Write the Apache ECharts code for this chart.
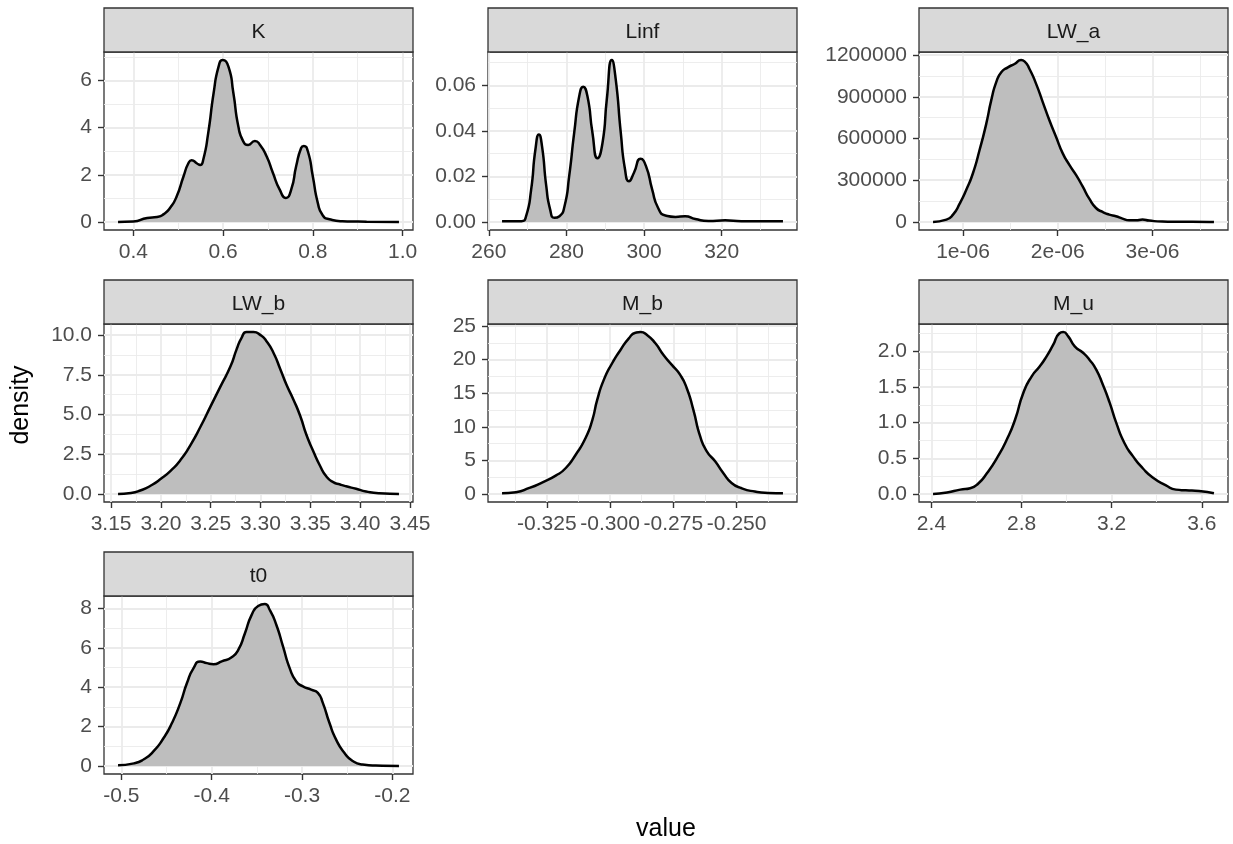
<!DOCTYPE html>
<html><head><meta charset="utf-8">
<script src="https://cdn.jsdelivr.net/npm/echarts@6/dist/echarts.min.js"></script>
<style>html,body{margin:0;padding:0;background:#fff}#c{width:1233px;height:844px}</style>
</head><body><div id="c"></div>
<script>
// ---- data ----
const panelNames = ['K', 'Linf', 'LW_a', 'LW_b', 'M_b', 'M_u', 't0'];

const K_x = [0.366,0.400,0.431,0.453,0.468,0.483,0.497,0.512,0.523,0.530,0.542,0.549,0.556,0.567,0.579,0.590,0.599,0.612,0.623,0.634,0.645,0.656,0.671,0.682,0.697,0.711,0.726,0.740,0.752,0.763,0.774,0.780,0.789,0.800,0.811,0.822,0.837,0.866,0.920,0.992];
const K_y = [0,0.02,0.17,0.21,0.33,0.62,1.1,1.94,2.5,2.62,2.48,2.42,2.65,3.78,5.47,6.59,6.87,6.59,5.47,4.06,3.42,3.27,3.44,3.28,2.79,2.09,1.38,1.02,1.38,2.37,3.14,3.22,3.0,1.94,0.82,0.28,0.11,0.03,0.01,0];

const Linf_x = [263.4,268.4,269.6,270.9,272.0,272.9,273.7,274.8,275.8,276.9,278.2,279.5,280.7,282.0,283.3,284.3,285.4,286.7,288.0,289.3,290.4,291.7,292.7,294.0,295.1,296.1,297.4,299.1,300.5,302.1,303.6,305.5,308.1,310.6,313.2,316.6,320.9,325.1,335.8];
const Linf_y = [0.0003,0.0003,0.0025,0.0142,0.0318,0.0384,0.0333,0.0157,0.0054,0.0018,0.0025,0.0069,0.0201,0.0392,0.0553,0.0594,0.0553,0.0392,0.0280,0.0348,0.0538,0.0711,0.0626,0.0392,0.0230,0.0179,0.0216,0.0277,0.0245,0.0142,0.0062,0.0028,0.0022,0.0025,0.0013,0.0004,0.0007,0.0003,0.0003];

const LW_a_x = [0.684e-6,0.825e-6,0.895e-6,0.965e-6,1.035e-6,1.105e-6,1.175e-6,1.246e-6,1.298e-6,1.351e-6,1.404e-6,1.474e-6,1.544e-6,1.614e-6,1.649e-6,1.702e-6,1.772e-6,1.842e-6,1.912e-6,1.982e-6,2.053e-6,2.123e-6,2.193e-6,2.263e-6,2.333e-6,2.404e-6,2.474e-6,2.544e-6,2.614e-6,2.684e-6,2.754e-6,2.825e-6,2.895e-6,2.965e-6,3.105e-6,3.280e-6,3.420e-6,3.649e-6];
const LW_a_y = [0,16700,52400,131000,231000,350000,517000,707000,874000,1005000,1076000,1112000,1136000,1164000,1155000,1100000,993000,862000,731000,612000,493000,410000,338000,255000,167000,100000,71400,52400,40500,23800,11900,11900,16700,9500,2400,1000,2000,0];

const LW_b_x = [3.157,3.170,3.180,3.190,3.200,3.210,3.220,3.230,3.240,3.250,3.260,3.270,3.276,3.281,3.286,3.293,3.300,3.306,3.313,3.320,3.326,3.333,3.340,3.346,3.353,3.360,3.366,3.373,3.380,3.386,3.396,3.406,3.419,3.439];
const LW_b_y = [0,0.06,0.23,0.53,0.95,1.47,2.16,3.11,4.26,5.53,6.79,8.05,9.10,9.83,10.19,10.19,10.0,9.62,8.89,7.84,6.89,5.95,4.89,3.74,2.69,1.74,1.11,0.74,0.59,0.48,0.32,0.15,0.04,0];

const M_b_x = [-0.3427,-0.3372,-0.3319,-0.3267,-0.3215,-0.3175,-0.3136,-0.3097,-0.3070,-0.3051,-0.3025,-0.2992,-0.2959,-0.2926,-0.2900,-0.2880,-0.2854,-0.2821,-0.2789,-0.2756,-0.2723,-0.2697,-0.2671,-0.2644,-0.2618,-0.2585,-0.2553,-0.2520,-0.2480,-0.2428,-0.2376,-0.2317];
const M_b_y = [0.1,0.25,0.89,1.73,2.72,3.86,5.84,8.32,11.04,14.0,16.98,19.46,21.44,23.17,24.0,24.1,23.66,22.43,20.69,19.21,17.72,15.74,12.52,8.56,6.34,4.85,3.12,1.63,0.84,0.35,0.15,0.1];

const M_u_x = [2.407,2.469,2.528,2.572,2.609,2.646,2.690,2.734,2.771,2.808,2.845,2.881,2.911,2.940,2.967,2.985,3.007,3.036,3.073,3.102,3.132,3.161,3.191,3.220,3.257,3.294,3.338,3.382,3.441,3.485,3.529,3.588,3.654];
const M_u_y = [0,0.02,0.06,0.08,0.15,0.29,0.50,0.76,1.04,1.42,1.65,1.79,1.93,2.09,2.25,2.27,2.21,2.07,1.98,1.88,1.74,1.53,1.28,1.0,0.71,0.53,0.36,0.23,0.12,0.06,0.05,0.04,0.01];

const t0_x = [-0.5037,-0.4861,-0.4751,-0.4641,-0.4531,-0.4439,-0.4347,-0.4274,-0.4201,-0.4127,-0.4054,-0.3981,-0.3889,-0.3779,-0.3706,-0.3632,-0.3559,-0.3486,-0.3412,-0.3357,-0.3284,-0.3210,-0.3137,-0.3064,-0.2990,-0.2899,-0.2825,-0.2770,-0.2697,-0.2624,-0.2532,-0.2440,-0.2330,-0.2184,-0.1927];
const t0_y = [0.03,0.13,0.34,0.76,1.43,2.19,3.2,4.21,4.97,5.31,5.22,5.17,5.31,5.52,5.89,6.74,7.66,8.12,8.22,7.92,7.16,6.06,4.97,4.29,4.04,3.87,3.71,3.2,2.19,1.35,0.67,0.25,0.07,0.02,0];

// tick values and labels
const K_xTicks = [0.4,0.6,0.8,1.0];            const K_xLabels = ['0.4','0.6','0.8','1.0'];
const K_yTicks = [0,2,4,6];                    const K_yLabels = ['0','2','4','6'];
const Linf_xTicks = [260,280,300,320];         const Linf_xLabels = ['260','280','300','320'];
const Linf_yTicks = [0,0.02,0.04,0.06];        const Linf_yLabels = ['0.00','0.02','0.04','0.06'];
const LW_a_xTicks = [1e-6,2e-6,3e-6];          const LW_a_xLabels = ['1e-06','2e-06','3e-06'];
const LW_a_yTicks = [0,300000,600000,900000,1200000]; const LW_a_yLabels = ['0','300000','600000','900000','1200000'];
const LW_b_xTicks = [3.15,3.20,3.25,3.30,3.35,3.40,3.45]; const LW_b_xLabels = ['3.15','3.20','3.25','3.30','3.35','3.40','3.45'];
const LW_b_yTicks = [0,2.5,5,7.5,10];          const LW_b_yLabels = ['0.0','2.5','5.0','7.5','10.0'];
const M_b_xTicks = [-0.325,-0.300,-0.275,-0.250]; const M_b_xLabels = ['-0.325','-0.300','-0.275','-0.250'];
const M_b_yTicks = [0,5,10,15,20,25];          const M_b_yLabels = ['0','5','10','15','20','25'];
const M_u_xTicks = [2.4,2.8,3.2,3.6];          const M_u_xLabels = ['2.4','2.8','3.2','3.6'];
const M_u_yTicks = [0,0.5,1.0,1.5,2.0];        const M_u_yLabels = ['0.0','0.5','1.0','1.5','2.0'];
const t0_xTicks = [-0.5,-0.4,-0.3,-0.2];       const t0_xLabels = ['-0.5','-0.4','-0.3','-0.2'];
const t0_yTicks = [0,2,4,6,8];                 const t0_yLabels = ['0','2','4','6','8'];

const xTitle = 'value';
const yTitle = 'density';

// ---- assemble ----
const panels = [
  {x:K_x, y:K_y, xt:K_xTicks, xl:K_xLabels, yt:K_yTicks, yl:K_yLabels},
  {x:Linf_x, y:Linf_y, xt:Linf_xTicks, xl:Linf_xLabels, yt:Linf_yTicks, yl:Linf_yLabels},
  {x:LW_a_x, y:LW_a_y, xt:LW_a_xTicks, xl:LW_a_xLabels, yt:LW_a_yTicks, yl:LW_a_yLabels},
  {x:LW_b_x, y:LW_b_y, xt:LW_b_xTicks, xl:LW_b_xLabels, yt:LW_b_yTicks, yl:LW_b_yLabels},
  {x:M_b_x, y:M_b_y, xt:M_b_xTicks, xl:M_b_xLabels, yt:M_b_yTicks, yl:M_b_yLabels},
  {x:M_u_x, y:M_u_y, xt:M_u_xTicks, xl:M_u_xLabels, yt:M_u_yTicks, yl:M_u_yLabels},
  {x:t0_x, y:t0_y, xt:t0_xTicks, xl:t0_xLabels, yt:t0_yTicks, yl:t0_yLabels}
];

const FONT = 'Liberation Sans, Arial, Helvetica, sans-serif';
const colLeft = [104, 488, 919];
const rowTop = [52, 324, 596];
const W = 309, H = 178, STRIP = 44;

function minors(ticks, lo, hi) {
  const d = ticks[1] - ticks[0];
  const ext = [ticks[0] - d].concat(ticks, [ticks[ticks.length - 1] + d]);
  const out = [];
  for (let i = 0; i < ext.length - 1; i++) {
    const m = (ext[i] + ext[i + 1]) / 2;
    if (m > lo && m < hi) out.push(m);
  }
  return out;
}
function fmt(ticks, labels) {
  const tol = Math.abs(ticks[1] - ticks[0]) * 1e-4;
  return function (v) {
    for (let i = 0; i < ticks.length; i++) if (Math.abs(v - ticks[i]) <= tol) return labels[i];
    return '';
  };
}

const grids = [], xAxes = [], yAxes = [], series = [], graphics = [];
panels.forEach((p, i) => {
  const c = i % 3, r = Math.floor(i / 3);
  const left = colLeft[c], top = rowTop[r];
  grids.push({left: left, top: top, width: W, height: H, show: true,
    borderColor: '#333333', borderWidth: 1.3, backgroundColor: '#ffffff',
    containLabel: false, outerBoundsMode: 'none'});
  const xmin = Math.min(...p.x), xmax = Math.max(...p.x), xr = xmax - xmin;
  const ymax = Math.max(...p.y);
  const xlo = xmin - 0.05 * xr, xhi = xmax + 0.05 * xr;
  const ylo = -0.05 * ymax, yhi = ymax * 1.05;
  const xt = p.xt.filter(v => v >= xlo && v <= xhi);
  const yt = p.yt.filter(v => v >= ylo && v <= yhi);
  xAxes.push({type: 'value', gridIndex: i, min: xlo, max: xhi, position: 'bottom',
    axisLine: {show: false, onZero: false},
    axisTick: {show: true, length: 6, customValues: xt, lineStyle: {color: '#333333', width: 1.4}},
    axisLabel: {show: true, customValues: xt, formatter: fmt(p.xt, p.xl), margin: 12,
      color: '#4D4D4D', fontSize: 21, fontFamily: FONT},
    splitLine: {show: true, lineStyle: {color: '#EBEBEB', width: 1.8}},
    z: 1});
  xAxes.push({type: 'value', gridIndex: i, min: xlo, max: xhi, position: 'top',
    axisLine: {show: false, onZero: false},
    axisTick: {show: false, customValues: minors(p.xt, xlo, xhi)},
    axisLabel: {show: false},
    splitLine: {show: true, lineStyle: {color: '#EBEBEB', width: 0.9}},
    z: 0});
  yAxes.push({type: 'value', gridIndex: i, min: ylo, max: yhi, position: 'left',
    axisLine: {show: false, onZero: false},
    axisTick: {show: true, length: 6, customValues: yt, lineStyle: {color: '#333333', width: 1.4}},
    axisLabel: {show: true, customValues: yt, formatter: fmt(p.yt, p.yl), margin: 12,
      color: '#4D4D4D', fontSize: 21, fontFamily: FONT},
    splitLine: {show: true, lineStyle: {color: '#EBEBEB', width: 1.8}},
    z: 1});
  yAxes.push({type: 'value', gridIndex: i, min: ylo, max: yhi, position: 'right',
    axisLine: {show: false, onZero: false},
    axisTick: {show: false, customValues: minors(p.yt, ylo, yhi)},
    axisLabel: {show: false},
    splitLine: {show: true, lineStyle: {color: '#EBEBEB', width: 0.9}},
    z: 0});
  series.push({type: 'line', xAxisIndex: 2 * i, yAxisIndex: 2 * i,
    data: p.x.map((x, j) => [x, p.y[j]]),
    showSymbol: false, symbol: 'none', smooth: 0.6,
    lineStyle: {color: '#000000', width: 2.5},
    areaStyle: {color: '#BEBEBE', opacity: 1},
    silent: true, z: 3});
  graphics.push({type: 'rect', shape: {x: left, y: top - STRIP, width: W, height: STRIP},
    style: {fill: '#D9D9D9', stroke: '#333333', lineWidth: 1.3}, z: 10});
  graphics.push({type: 'text', x: left + W / 2, y: top - STRIP / 2 + 2,
    style: {text: panelNames[i], align: 'center', verticalAlign: 'middle',
      fontSize: 21, fill: '#1A1A1A', fontFamily: FONT}, z: 11});
});
graphics.push({type: 'text', x: (colLeft[0] + colLeft[2] + W) / 2, y: 829,
  style: {text: xTitle, align: 'center', verticalAlign: 'middle', fontSize: 25, fill: '#000000', fontFamily: FONT}});
graphics.push({type: 'text', x: 21, y: 405, rotation: Math.PI / 2,
  style: {text: yTitle, align: 'center', verticalAlign: 'middle', fontSize: 25, fill: '#000000', fontFamily: FONT}});

const chart = echarts.init(document.getElementById('c'), null, {renderer: 'canvas'});
chart.setOption({
  animation: false,
  backgroundColor: '#ffffff',
  grid: grids, xAxis: xAxes, yAxis: yAxes, series: series,
  graphic: {elements: graphics}
});
</script>
</body></html>
